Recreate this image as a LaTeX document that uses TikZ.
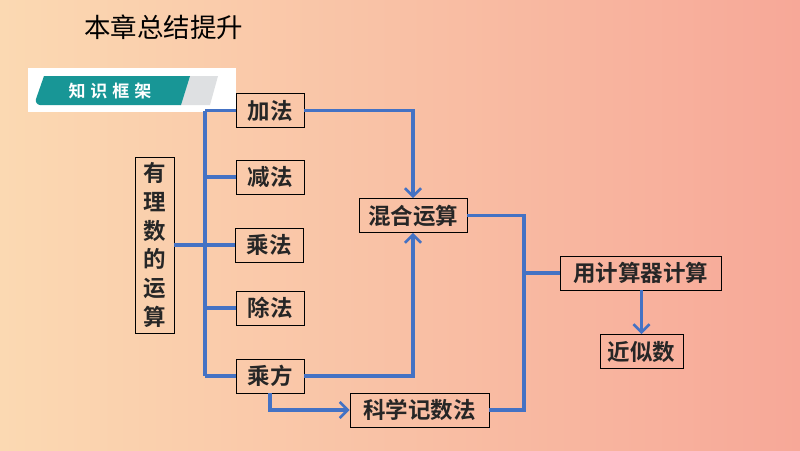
\documentclass[tikz,border=0pt]{standalone}
\usepackage{fontspec}
\newfontfamily\cjk{Noto Sans CJK SC}
\newfontfamily\cjkb{Noto Sans CJK SC Bold}
\usetikzlibrary{arrows.meta}
\definecolor{bgl}{RGB}{251,217,178}
\definecolor{bgr}{RGB}{247,168,152}
\definecolor{lnc}{RGB}{68,114,196}
\definecolor{teal1}{RGB}{24,150,150}
\definecolor{gray1}{RGB}{222,224,226}
\tikzset{
  box/.style={draw=black, line width=0.9pt, inner sep=0pt, minimum height=34pt, font=\cjkb\fontsize{22.5}{26}\selectfont, text=black!85},
  conn/.style={draw=lnc, line width=3.2pt},
  arr/.style={conn, -{Straight Barb[length=8pt,width=16pt,line width=2.6pt]}}
}
\begin{document}
\begin{tikzpicture}[x=1pt,y=-1pt]
\useasboundingbox (0,0) rectangle (800,450);
\shade[left color=bgl, right color=bgr] (0,0) rectangle (800,450);
% title
\node[font=\cjk\fontsize{26.5}{30}\selectfont, anchor=west, inner sep=0pt] (title) at (84,27) {本章总结提升};
% banner
\fill[white] (28,68) rectangle (236,112);
\fill[gray1] (188,76) -- (218,76) -- (210,105) -- (180,105) -- cycle;
\fill[teal1] (44,76) -- (190,76) -- (181,105) -- (40,105) to[out=180,in=250] (36,99) -- cycle;
\node[font=\cjkb\fontsize{17}{18}\selectfont, text=white] (banner) at (110,91) {知\hspace{5pt}识\hspace{5pt}框\hspace{5pt}架};
% nodes
\node[box, minimum width=68pt] (jia) at (270,110.5) {加法};
\node[box, minimum width=68pt] (jian) at (270,177) {减法};
\node[box, minimum width=68pt] (cheng) at (269,245) {乘法};
\node[box, minimum width=68pt] (chu) at (270,308) {除法};
\node[box, minimum width=68pt] (fang) at (270,376) {乘方};
\node[box, minimum width=39pt, minimum height=176pt, align=center, font=\cjkb\fontsize{22.5}{28.8}\selectfont] (yl) at (154.5,245) {有\\理\\数\\的\\运\\算};
\node[box, minimum width=108pt] (hh) at (413,215.5) {混合运算};
\node[box, minimum width=139pt] (kx) at (419.5,410) {科学记数法};
\node[box, minimum width=161pt] (yj) at (640.5,273) {用计算器计算};
\node[box, minimum width=83pt] (js) at (641.5,351.5) {近似数};
% connectors
\coordinate (t1) at (205,110.5);
\coordinate (t2) at (205,376);
\draw[conn] (t1) -- (t2);
\draw[conn] (yl.east) -- (yl.east -| t1);
\draw[conn] (t1) -- (jia.west);
\draw[conn] (jian.west -| t1) -- (jian.west);
\draw[conn] (cheng.west -| t1) -- (cheng.west);
\draw[conn] (chu.west -| t1) -- (chu.west);
\draw[conn] (t2) -- (fang.west);
\draw[arr] (jia.east) -| (hh.north);
\draw[arr] (fang.east) -| (hh.south);
\draw[arr] (fang.south) |- (kx.west);
\coordinate (r1) at (524,215.5);
\draw[conn] (hh.east) -- (r1) |- (kx.east);
\draw[conn] (yj.west -| r1) -- (yj.west);
\draw[arr] (yj.south -| js.north) -- (js.north);
\end{tikzpicture}
\end{document}
